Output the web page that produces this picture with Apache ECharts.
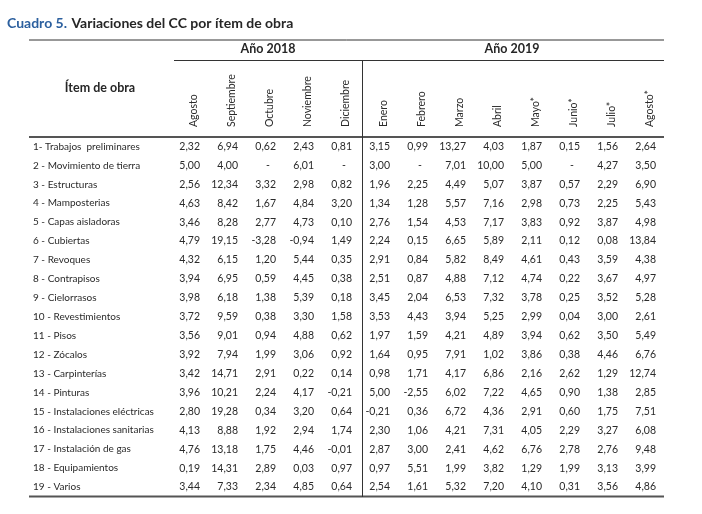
<!DOCTYPE html>
<html>
<head>
<meta charset="utf-8">
<script src="https://cdn.jsdelivr.net/npm/echarts@6/dist/echarts.min.js"></script>
<style>
html,body{margin:0;padding:0;background:#fff;}
#chart{width:702px;height:514px;}
</style>
</head>
<body>
<div id="chart"></div>
<script>
// ---- Data ----
var titleLead = 'Cuadro 5.';
var titleRest = 'Variaciones del CC por ítem de obra';
var year2018 = 'Año 2018';
var year2019 = 'Año 2019';
var itemHeader = 'Ítem de obra';
var months = ['Agosto','Septiembre','Octubre','Noviembre','Diciembre','Enero','Febrero','Marzo','Abril','Mayo*','Junio*','Julio*','Agosto*'];
var items = ['1- Trabajos  preliminares','2 - Movimiento de tierra','3 - Estructuras','4 - Mamposterias','5 - Capas aisladoras','6 - Cubiertas','7 - Revoques','8 - Contrapisos','9 - Cielorrasos','10 - Revestimientos','11 - Pisos','12 - Zócalos','13 - Carpinterías','14 - Pinturas','15 - Instalaciones eléctricas','16 - Instalaciones sanitarias','17 - Instalación de gas','18 - Equipamientos','19 - Varios'];
// one array per month column (null = "-")
var ago2018 = [2.32,5.00,2.56,4.63,3.46,4.79,4.32,3.94,3.98,3.72,3.56,3.92,3.42,3.96,2.80,4.13,4.76,0.19,3.44];
var sep2018 = [6.94,4.00,12.34,8.42,8.28,19.15,6.15,6.95,6.18,9.59,9.01,7.94,14.71,10.21,19.28,8.88,13.18,14.31,7.33];
var oct2018 = [0.62,null,3.32,1.67,2.77,-3.28,1.20,0.59,1.38,0.38,0.94,1.99,2.91,2.24,0.34,1.92,1.75,2.89,2.34];
var nov2018 = [2.43,6.01,2.98,4.84,4.73,-0.94,5.44,4.45,5.39,3.30,4.88,3.06,0.22,4.17,3.20,2.94,4.46,0.03,4.85];
var dic2018 = [0.81,null,0.82,3.20,0.10,1.49,0.35,0.38,0.18,1.58,0.62,0.92,0.14,-0.21,0.64,1.74,-0.01,0.97,0.64];
var ene2019 = [3.15,3.00,1.96,1.34,2.76,2.24,2.91,2.51,3.45,3.53,1.97,1.64,0.98,5.00,-0.21,2.30,2.87,0.97,2.54];
var feb2019 = [0.99,null,2.25,1.28,1.54,0.15,0.84,0.87,2.04,4.43,1.59,0.95,1.71,-2.55,0.36,1.06,3.00,5.51,1.61];
var mar2019 = [13.27,7.01,4.49,5.57,4.53,6.65,5.82,4.88,6.53,3.94,4.21,7.91,4.17,6.02,6.72,4.21,2.41,1.99,5.32];
var abr2019 = [4.03,10.00,5.07,7.16,7.17,5.89,8.49,7.12,7.32,5.25,4.89,1.02,6.86,7.22,4.36,7.31,4.62,3.82,7.20];
var may2019 = [1.87,5.00,3.87,2.98,3.83,2.11,4.61,4.74,3.78,2.99,3.94,3.86,2.16,4.65,2.91,4.05,6.76,1.29,4.10];
var jun2019 = [0.15,null,0.57,0.73,0.92,0.12,0.43,0.22,0.25,0.04,0.62,0.38,2.62,0.90,0.60,2.29,2.78,1.99,0.31];
var jul2019 = [1.56,4.27,2.29,2.25,3.87,0.08,3.59,3.67,3.52,3.00,3.50,4.46,1.29,1.38,1.75,3.27,2.76,3.13,3.56];
var agoS2019 = [2.64,3.50,6.90,5.43,4.98,13.84,4.38,4.97,5.28,2.61,5.49,6.76,12.74,2.85,7.51,6.08,9.48,3.99,4.86];

var columns = [ago2018,sep2018,oct2018,nov2018,dic2018,ene2019,feb2019,mar2019,abr2019,may2019,jun2019,jul2019,agoS2019];

// ---- Build cells ----
var cells = [];
columns.forEach(function (col, c) {
  col.forEach(function (v, r) { cells.push([c, r, v]); });
});
function fmt(v) { return v === null ? '-' : v.toFixed(2).replace('.', ','); }

var FONT = 'Lato, "Open Sans", sans-serif';
var TXT = '#2a2a2a';

var chart = echarts.init(document.getElementById('chart'), null, {renderer: 'canvas'});
chart.setOption({
  animation: false,
  backgroundColor: '#ffffff',
  textStyle: {fontFamily: FONT},
  title: {
    left: 2, top: 9,
    text: '{a|' + titleLead + '} {b|' + titleRest + '}',
    textStyle: {
      rich: {
        a: {fontFamily: FONT, fontWeight: 'bold', fontSize: 14, color: '#2b5f9e'},
        b: {fontFamily: FONT, fontWeight: 'bold', fontSize: 14, color: '#262626'}
      }
    }
  },
  grid: {left: 175, top: 137, width: 494, height: 359.5},
  xAxis: {
    type: 'category', position: 'top', data: months,
    axisLine: {show: false}, axisTick: {show: false}, splitLine: {show: false},
    axisLabel: {rotate: -90, margin: 10, fontSize: 10.5, color: TXT, fontFamily: FONT, interval: 0}
  },
  yAxis: {
    type: 'category', inverse: true, data: items,
    axisLine: {show: false}, axisTick: {show: false}, splitLine: {show: false},
    axisLabel: {align: 'left', margin: 142, fontSize: 10, color: TXT, fontFamily: FONT, interval: 0}
  },
  series: [{
    type: 'custom',
    data: cells,
    renderItem: function (params, api) {
      var cell = cells[params.dataIndex];
      var p = api.coord([cell[0], cell[1]]);
      var isDash = cell[2] === null;
      return {
        type: 'text',
        x: isDash ? p[0] - 2 : p[0] + 6,
        y: p[1],
        style: {
          text: fmt(cell[2]),
          textAlign: isDash ? 'center' : 'right',
          textVerticalAlign: 'middle',
          fill: TXT,
          font: '10.5px ' + FONT
        }
      };
    }
  }],
  graphic: [
    {type: 'line', shape: {x1: 29, y1: 40, x2: 664, y2: 40}, style: {stroke: '#333', lineWidth: 1}},
    {type: 'text', x: 268, y: 49, style: {text: year2018, textAlign: 'center', textVerticalAlign: 'middle', font: 'bold 12.5px ' + FONT, fill: '#262626'}},
    {type: 'text', x: 512, y: 49, style: {text: year2019, textAlign: 'center', textVerticalAlign: 'middle', font: 'bold 12.5px ' + FONT, fill: '#262626'}},
    {type: 'line', shape: {x1: 174, y1: 60.5, x2: 664, y2: 60.5}, style: {stroke: '#333', lineWidth: 1}},
    {type: 'text', x: 100, y: 88, style: {text: itemHeader, textAlign: 'center', textVerticalAlign: 'middle', font: 'bold 12.5px ' + FONT, fill: '#262626'}},
    {type: 'line', shape: {x1: 29, y1: 137, x2: 664, y2: 137}, style: {stroke: '#555', lineWidth: 2}},
    {type: 'line', shape: {x1: 29, y1: 496.5, x2: 664, y2: 496.5}, style: {stroke: '#555', lineWidth: 2}},
    {type: 'line', shape: {x1: 362.5, y1: 60.5, x2: 362.5, y2: 497}, style: {stroke: '#333', lineWidth: 1}}
  ]
});
</script>
</body>
</html>
